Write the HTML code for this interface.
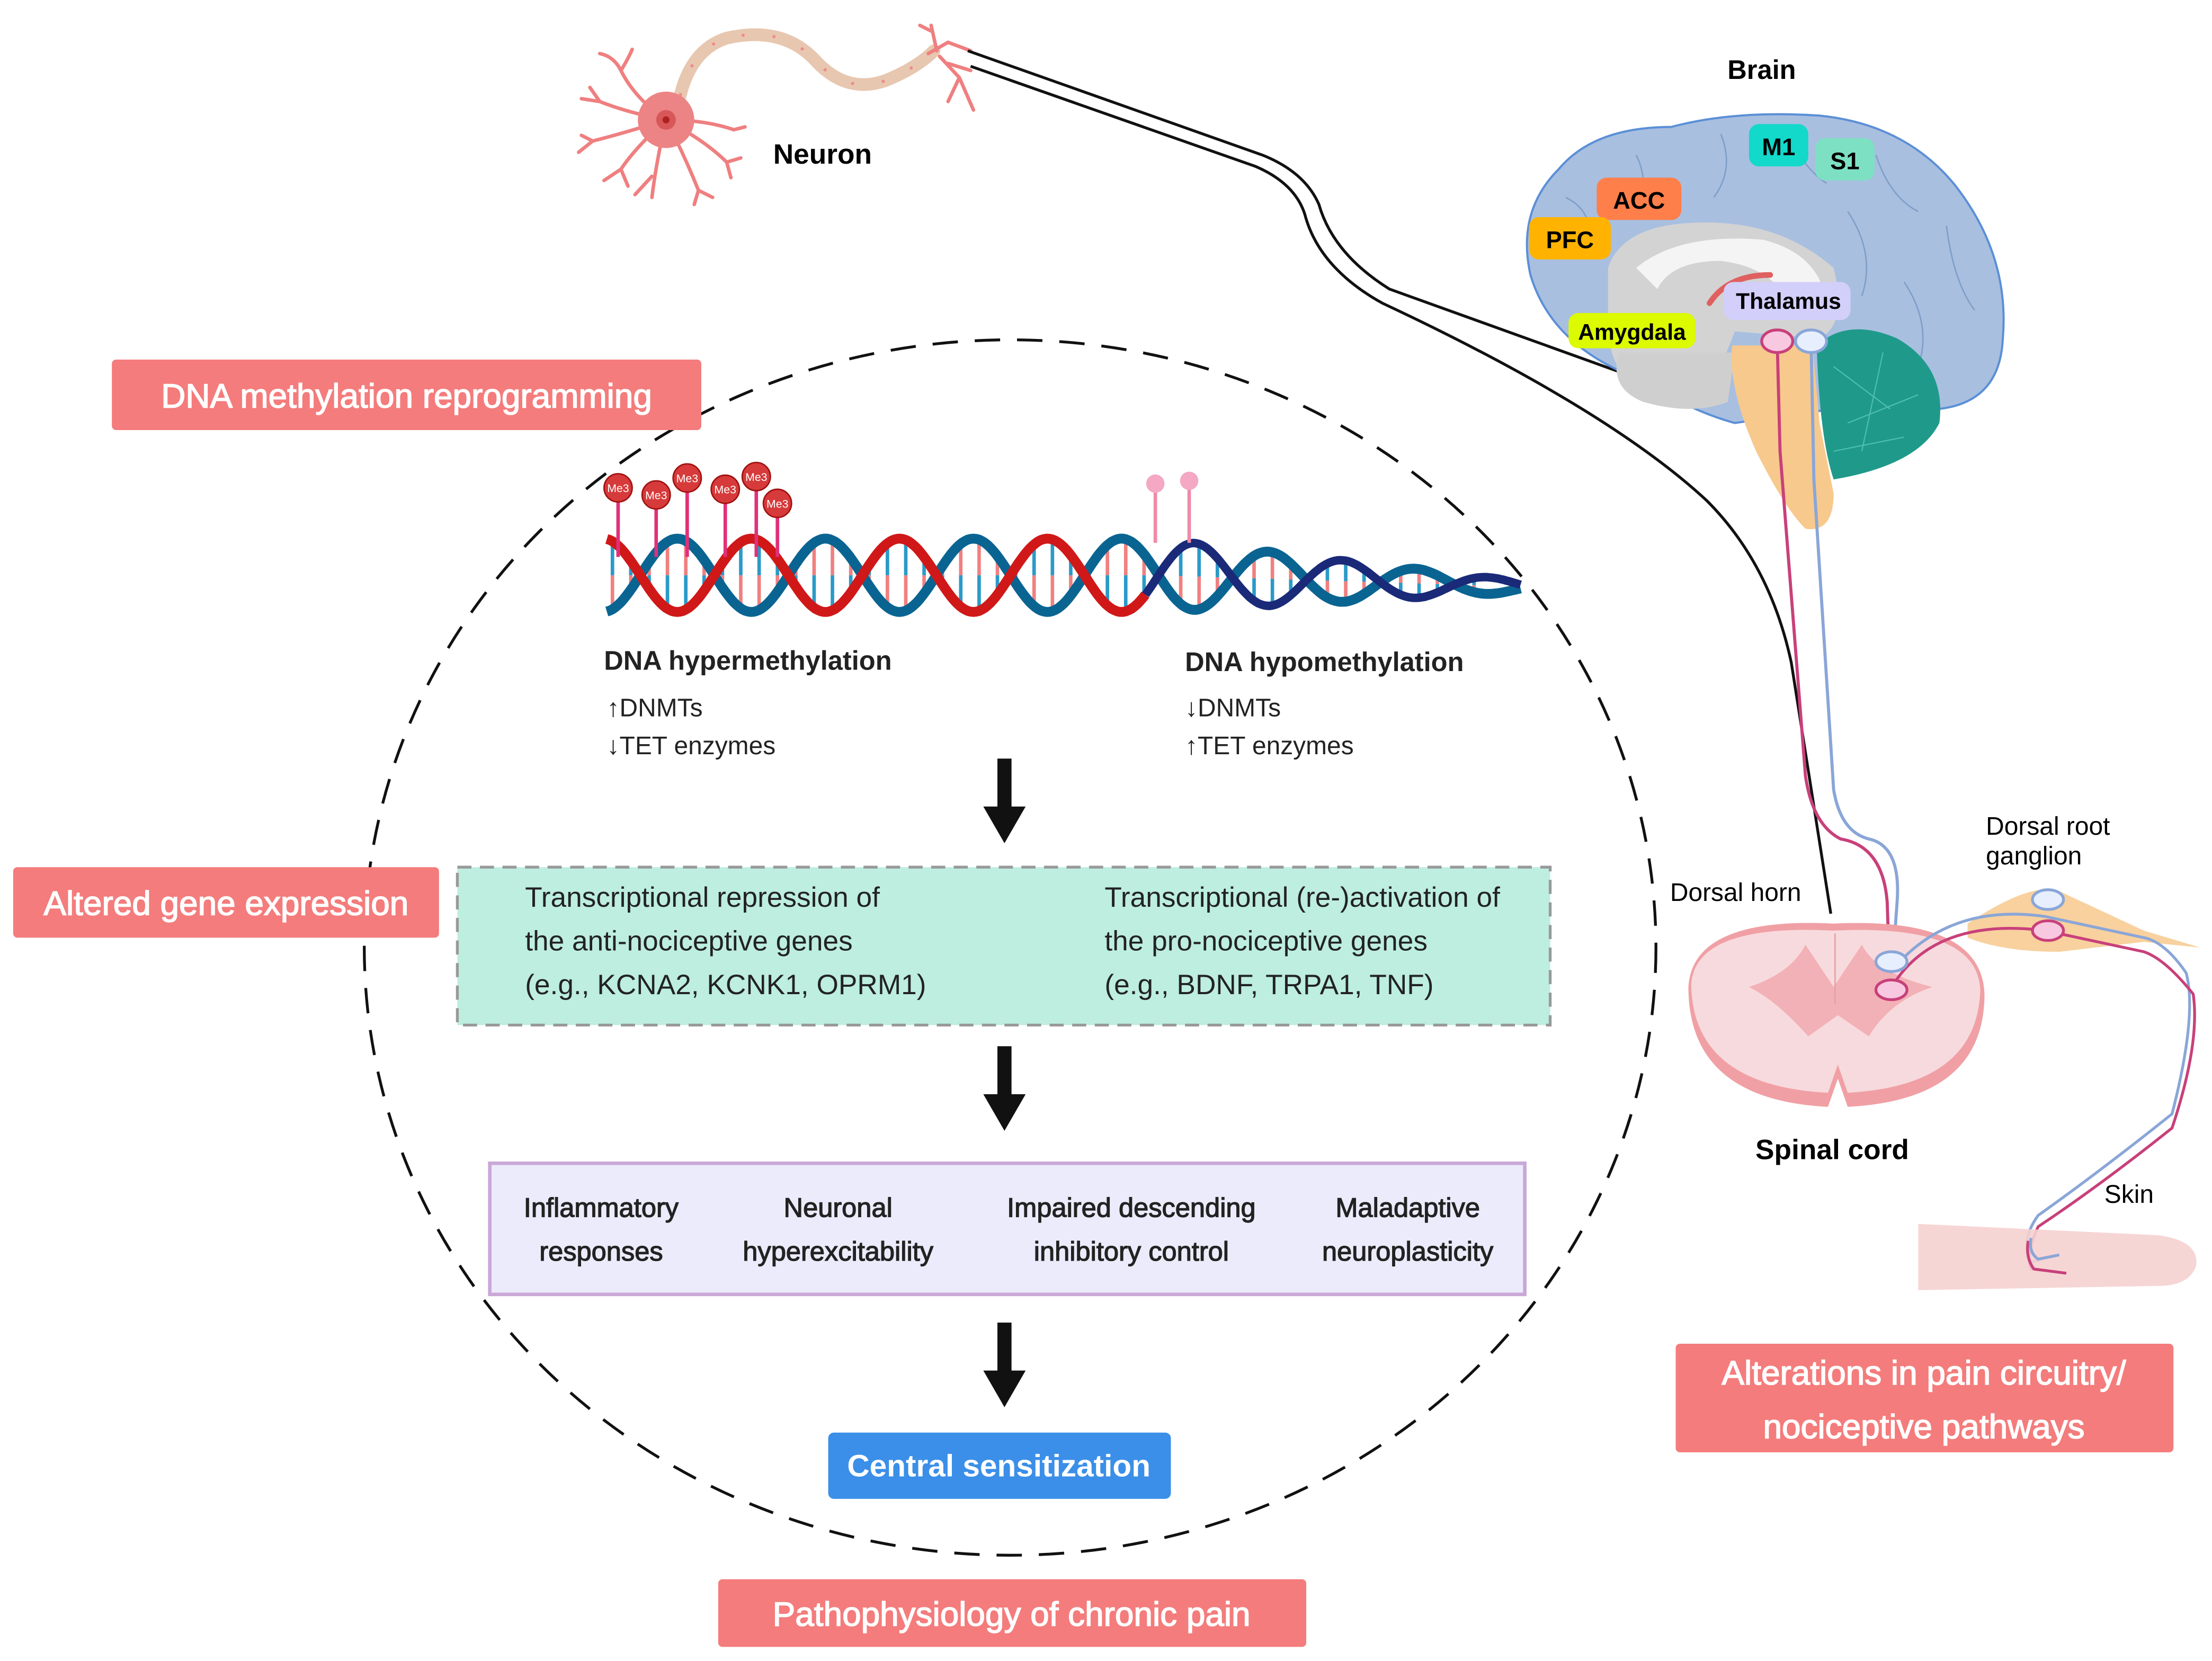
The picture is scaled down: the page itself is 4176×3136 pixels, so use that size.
<!DOCTYPE html>
<html><head><meta charset="utf-8">
<style>
html,body{margin:0;padding:0;background:#fff;}
svg{display:block;}
text{font-family:"Liberation Sans",Arial,sans-serif;}
</style></head>
<body>
<svg id="s" width="4176" height="3136" viewBox="0 0 1568 1178" xmlns="http://www.w3.org/2000/svg">
<rect width="1568" height="1178" fill="#fff"/>

<!-- Neuron -->
<g stroke="#ef7f80" fill="none" stroke-linecap="round" stroke-width="2.5">
  <path d="M472 85 Q450 70 440 50 Q435 40 425 38 M440 50 Q445 42 448 35"/>
  <path d="M472 85 Q445 80 425 72 L412 70 M425 72 L418 62"/>
  <path d="M472 85 Q440 95 420 100 L410 108 M420 100 L412 96"/>
  <path d="M472 85 Q450 105 440 120 L428 128 M440 120 L445 132"/>
  <path d="M472 85 Q465 115 462 140 M462 125 L450 138"/>
  <path d="M472 85 Q485 110 495 135 L492 145 M495 135 L505 140"/>
  <path d="M472 85 Q500 100 515 115 L525 112 M515 115 L518 126"/>
  <path d="M472 85 Q500 85 520 92 L528 90"/>
</g>
<path d="M482 68 Q490 35 515 27 Q555 18 578 43 Q600 67 628 57 Q650 48 662 36" stroke="#e8c7b0" stroke-width="9" fill="none" stroke-linecap="round"/>
<path d="M482 68 Q490 35 515 27 Q555 18 578 43 Q600 67 628 57 Q650 48 662 36" stroke="#ef8a8a" stroke-width="2" fill="none" stroke-dasharray="2 20"/>
<g stroke="#ef7f80" fill="none" stroke-linecap="round" stroke-width="2.5">
  <path d="M658 38 L672 30 L688 36 M664 36 L660 18 M660 22 L652 18 M666 40 L680 55 L690 78 M680 55 L672 72 M672 45 L688 50"/>
</g>
<circle cx="472" cy="85" r="20" fill="#ec8485"/>
<circle cx="472" cy="85" r="7" fill="#d8585a"/>
<circle cx="472" cy="85" r="2.5" fill="#b02020"/>
<text x="548" y="116" font-size="20" font-weight="bold">Neuron</text>

<!-- black connector lines -->
<path d="M686 36 L895 110 Q925 122 935 145 Q945 180 985 205 L1160 268" stroke="#111" stroke-width="2" fill="none"/>
<path d="M688 47 L890 118 Q918 130 925 152 Q935 190 980 215 Q1140 290 1210 355 Q1255 400 1270 470 L1298 648" stroke="#111" stroke-width="2" fill="none"/>

<!-- Brain -->
<g>
  <path d="M1085 195 Q1075 150 1105 120 Q1130 90 1185 90 Q1230 78 1290 82 Q1350 88 1385 130 Q1425 180 1420 240 Q1418 285 1375 290 L1300 290 L1230 300 Q1200 292 1160 268 Q1100 245 1085 195 Z" fill="#a8bfe0" stroke="#5b8fd6" stroke-width="1.5"/>
  <g stroke="#7f9fc8" stroke-width="1" fill="none">
    <path d="M1110 140 Q1130 150 1125 170 M1160 110 Q1170 130 1160 150 M1220 95 Q1230 120 1215 140 M1270 100 Q1280 120 1295 130 M1330 110 Q1340 140 1360 150 M1380 160 Q1385 200 1400 220 M1350 200 Q1370 230 1360 260 M1310 150 Q1330 180 1320 210"/>
  </g>
  <path d="M1140 190 Q1150 160 1200 158 Q1260 155 1300 190 Q1310 230 1290 240 L1230 235 L1220 260 Q1200 285 1160 275 Q1140 260 1140 230 Z" fill="#d3d3d3"/>
  <path d="M1160 190 Q1190 165 1250 170 Q1290 180 1295 215 L1270 220 Q1260 190 1220 185 Q1185 185 1175 205 Z" fill="#f4f4f4"/>
  <path d="M1148 250 Q1140 275 1165 285 Q1200 295 1225 285 L1230 250 Z" fill="#cfcfcf"/>
  <path d="M1212 215 Q1225 195 1255 195" stroke="#e06060" stroke-width="4" fill="none" stroke-linecap="round"/>
  <path d="M1228 245 Q1225 275 1245 320 Q1265 360 1280 375 Q1300 378 1300 350 L1290 300 L1285 245 Z" fill="#f7c98d"/>
  <path d="M1288 245 Q1310 225 1345 240 Q1380 260 1375 300 Q1360 330 1300 340 Q1290 310 1288 245 Z" fill="#1f9a8a"/>
  <g stroke="#4fbfb0" stroke-width="0.8" fill="none"><path d="M1300 260 L1340 290 M1310 300 L1360 280 M1320 320 L1335 250 M1300 320 L1350 310"/></g>
</g>
<g font-weight="bold" font-size="17">
  <rect x="1240" y="88" width="42" height="30" rx="7" fill="#12d9c9"/><text x="1261" y="110" text-anchor="middle">M1</text>
  <rect x="1287" y="98" width="42" height="30" rx="7" fill="#7ee0c3"/><text x="1308" y="120" text-anchor="middle">S1</text>
  <rect x="1132" y="126" width="60" height="30" rx="7" fill="#ff7f4a"/><text x="1162" y="148" text-anchor="middle">ACC</text>
  <rect x="1084" y="154" width="58" height="30" rx="7" fill="#ffb300"/><text x="1113" y="176" text-anchor="middle">PFC</text>
  <rect x="1112" y="222" width="90" height="25" rx="7" fill="#dcfa00"/><text x="1157" y="241" text-anchor="middle" font-size="16">Amygdala</text>
  <rect x="1222" y="200" width="90" height="27" rx="7" fill="#d2cffa"/><text x="1268" y="219" text-anchor="middle" font-size="16">Thalamus</text>
</g>
<text x="1249" y="56" font-size="19" font-weight="bold" text-anchor="middle">Brain</text>

<!-- pathways -->
<path d="M1260 242 L1262 320 L1280 550 Q1285 585 1305 595 Q1335 600 1338 640 L1340 700" stroke="#c8407a" stroke-width="2.2" fill="none"/>
<path d="M1284 242 L1286 340 L1300 560 Q1305 590 1325 595 Q1348 600 1345 640 L1342 682" stroke="#8aa6d8" stroke-width="2.2" fill="none"/>

<!-- spinal cord -->
<path d="M1197 700 Q1200 650 1300 655 Q1405 650 1407 705 Q1407 780 1310 785 L1303 765 L1296 785 Q1197 780 1197 700 Z" fill="#f0a0a5"/>
<path d="M1199 698 Q1202 655 1300 660 Q1402 655 1404 702 Q1402 770 1310 775 L1303 755 L1296 775 Q1200 770 1199 698 Z" fill="#f7dadd"/>
<path d="M1240 700 Q1270 690 1280 670 L1300 700 L1320 670 Q1330 690 1370 700 Q1340 710 1325 735 L1303 720 L1282 735 Q1260 710 1240 700 Z" fill="#f2b1b6"/>
<line x1="1301" y1="662" x2="1301" y2="712" stroke="#e7a0a5" stroke-width="1"/>
<path d="M1395 655 Q1440 625 1460 632 L1520 660 L1560 672 L1520 668 L1460 675 Q1420 675 1395 665 Z" fill="#f7c98d" opacity="0.85"/>
<path d="M1340 690 Q1380 640 1450 650 L1520 665 Q1535 668 1550 690 Q1558 720 1540 790 Q1490 830 1445 862 Q1432 880 1440 895 L1460 890" stroke="#8aa6d8" stroke-width="2" fill="none"/>
<path d="M1340 702 Q1370 650 1450 660 L1520 675 Q1535 680 1555 705 Q1560 740 1540 800 Q1490 840 1445 870 Q1436 890 1440 900 L1465 903" stroke="#c8407a" stroke-width="2" fill="none"/>
<ellipse cx="1452" cy="638" rx="11" ry="7" fill="#e7efff" stroke="#8aa6d8" stroke-width="2"/>
<ellipse cx="1452" cy="660" rx="11" ry="7" fill="#f8c8e0" stroke="#c8407a" stroke-width="2"/>
<ellipse cx="1341" cy="682" rx="11" ry="7" fill="#e7efff" stroke="#8aa6d8" stroke-width="2"/>
<ellipse cx="1341" cy="702" rx="11" ry="7" fill="#f8c8e0" stroke="#c8407a" stroke-width="2"/>
<ellipse cx="1260" cy="242" rx="11" ry="8" fill="#f8c8e0" stroke="#c8407a" stroke-width="2"/>
<ellipse cx="1284" cy="242" rx="11" ry="8" fill="#e7efff" stroke="#8aa6d8" stroke-width="2"/>
<!-- skin -->
<path d="M1360 868 L1530 876 Q1560 880 1557 898 Q1552 912 1530 912 L1360 915 Z" fill="#f5d2d0" opacity="0.9"/>
<path d="M1438 880 Q1436 892 1442 900 L1465 903" stroke="#c8407a" stroke-width="2" fill="none"/>
<path d="M1440 878 Q1438 888 1445 893 L1460 890" stroke="#8aa6d8" stroke-width="2" fill="none"/>

<g font-size="18">
  <text x="1184" y="639">Dorsal horn</text>
  <text x="1408" y="592">Dorsal root</text>
  <text x="1408" y="613">ganglion</text>
  <text x="1492" y="853">Skin</text>
</g>
<text x="1299" y="822" font-size="20" font-weight="bold" text-anchor="middle">Spinal cord</text>

<!-- dashed circle -->
<ellipse cx="716" cy="672" rx="458" ry="431" fill="none" stroke="#111" stroke-width="2" stroke-dasharray="18 12"/>

<!-- DNA -->
<g id="dna"></g>

<!-- text -->
<g font-size="19" font-weight="bold" fill="#222">
  <text x="428" y="475">DNA hypermethylation</text>
  <text x="840" y="476">DNA hypomethylation</text>
</g>
<g font-size="18" fill="#222">
  <text x="430" y="508">↑DNMTs</text>
  <text x="430" y="535">↓TET enzymes</text>
  <text x="840" y="508">↓DNMTs</text>
  <text x="840" y="535">↑TET enzymes</text>
</g>

<!-- arrows -->
<g fill="#111">
  <rect x="707" y="538" width="10" height="38"/><polygon points="697,572 727,572 712,598"/>
  <rect x="707" y="742" width="10" height="38"/><polygon points="697,776 727,776 712,802"/>
  <rect x="707" y="938" width="10" height="38"/><polygon points="697,972 727,972 712,998"/>
</g>

<!-- green box -->
<rect x="324" y="615" width="775" height="112" fill="#bdeee0" stroke="#999" stroke-width="2" stroke-dasharray="10 6"/>
<g font-size="20" fill="#222">
  <text x="372" y="643">Transcriptional repression of</text>
  <text x="372" y="674">the anti-nociceptive genes</text>
  <text x="372" y="705">(e.g., KCNA2, KCNK1, OPRM1)</text>
  <text x="783" y="643">Transcriptional (re-)activation of</text>
  <text x="783" y="674">the pro-nociceptive genes</text>
  <text x="783" y="705">(e.g., BDNF, TRPA1, TNF)</text>
</g>

<!-- purple box -->
<rect x="347" y="825" width="734" height="93" fill="#ecebfb" stroke="#c9a8d8" stroke-width="2.5"/>
<g font-size="19" fill="#222" text-anchor="middle" stroke="#222" stroke-width="0.5">
  <text x="426" y="863">Inflammatory</text><text x="426" y="894">responses</text>
  <text x="594" y="863">Neuronal</text><text x="594" y="894">hyperexcitability</text>
  <text x="802" y="863">Impaired descending</text><text x="802" y="894">inhibitory control</text>
  <text x="998" y="863">Maladaptive</text><text x="998" y="894">neuroplasticity</text>
</g>

<!-- central sensitization -->
<rect x="587" y="1016" width="243" height="47" rx="4" fill="#3b8fe8"/>
<text x="708" y="1047" font-size="22" font-weight="bold" fill="#fff" text-anchor="middle">Central sensitization</text>

<!-- salmon boxes -->
<g fill="#f47c7c">
  <rect x="79" y="255" width="418" height="50" rx="3"/>
  <rect x="9" y="615" width="302" height="50" rx="3"/>
  <rect x="509" y="1120" width="417" height="48" rx="3"/>
  <rect x="1188" y="953" width="353" height="77" rx="3"/>
</g>
<g fill="#fff" font-size="24" text-anchor="middle" stroke="#fff" stroke-width="0.6">
  <text x="288" y="289">DNA methylation reprogramming</text>
  <text x="160" y="649">Altered gene expression</text>
  <text x="717" y="1153">Pathophysiology of chronic pain</text>
  <text x="1364" y="982">Alterations in pain circuitry/</text>
  <text x="1364" y="1020">nociceptive pathways</text>
</g>
</svg>
<script>
(function(){
var g=document.getElementById('dna'),ns='http://www.w3.org/2000/svg';
function el(t,a){var e=document.createElementNS(ns,t);for(var k in a)e.setAttribute(k,a[k]);g.appendChild(e);return e;}
var x0=430,x1=1078,P=105;
function amp(x){return x<820?26:26-(x-820)/(x1-820)*22;}
function cy(x){return x<820?408:408+(x-820)/(x1-820)*8;}
function y(x,ph){return cy(x)-amp(x)*Math.cos(2*Math.PI*(x-480)/P+ph);}
for(var x=x0+4;x<x1-20;x+=13){var a=y(x,0),b=y(x,Math.PI);
 var m=(a+b)/2;el('line',{x1:x,y1:a,x2:x,y2:m,stroke:'#f08080','stroke-width':2.5});
 el('line',{x1:x,y1:m,x2:x,y2:b,stroke:'#2a9ac8','stroke-width':2.5});}
function strand(ph,xa,xb,col,w){var d='';for(var x=xa;x<=xb;x+=2){d+=(x==xa?'M':'L')+x+' '+y(x,ph).toFixed(1);}
 el('path',{d:d,stroke:col,'stroke-width':w,fill:'none'});}
strand(0,x0,x1,'#0a6492',7);
strand(Math.PI,x0,812,'#d01818',7);
strand(Math.PI,812,x1,'#1a2a78',6);
var me=[[438,346],[465,351],[487,339],[514,347],[536,338],[551,357]];
me.forEach(function(p){el('line',{x1:p[0],y1:p[1],x2:p[0],y2:395,stroke:'#e0307a','stroke-width':2.5});});
me.forEach(function(p){el('circle',{cx:p[0],cy:p[1],r:10,fill:'#d63a3a',stroke:'#a01010','stroke-width':1});
 var t=el('text',{x:p[0],y:p[1]+3,'font-size':8,fill:'#fff','text-anchor':'middle'});t.textContent='Me3';});
[[819,343],[843,341]].forEach(function(p){el('line',{x1:p[0],y1:p[1],x2:p[0],y2:385,stroke:'#ef8aa8','stroke-width':2.5});
 el('circle',{cx:p[0],cy:p[1],r:6.5,fill:'#f4a8c4'});});
})();
</script>
</body></html>
